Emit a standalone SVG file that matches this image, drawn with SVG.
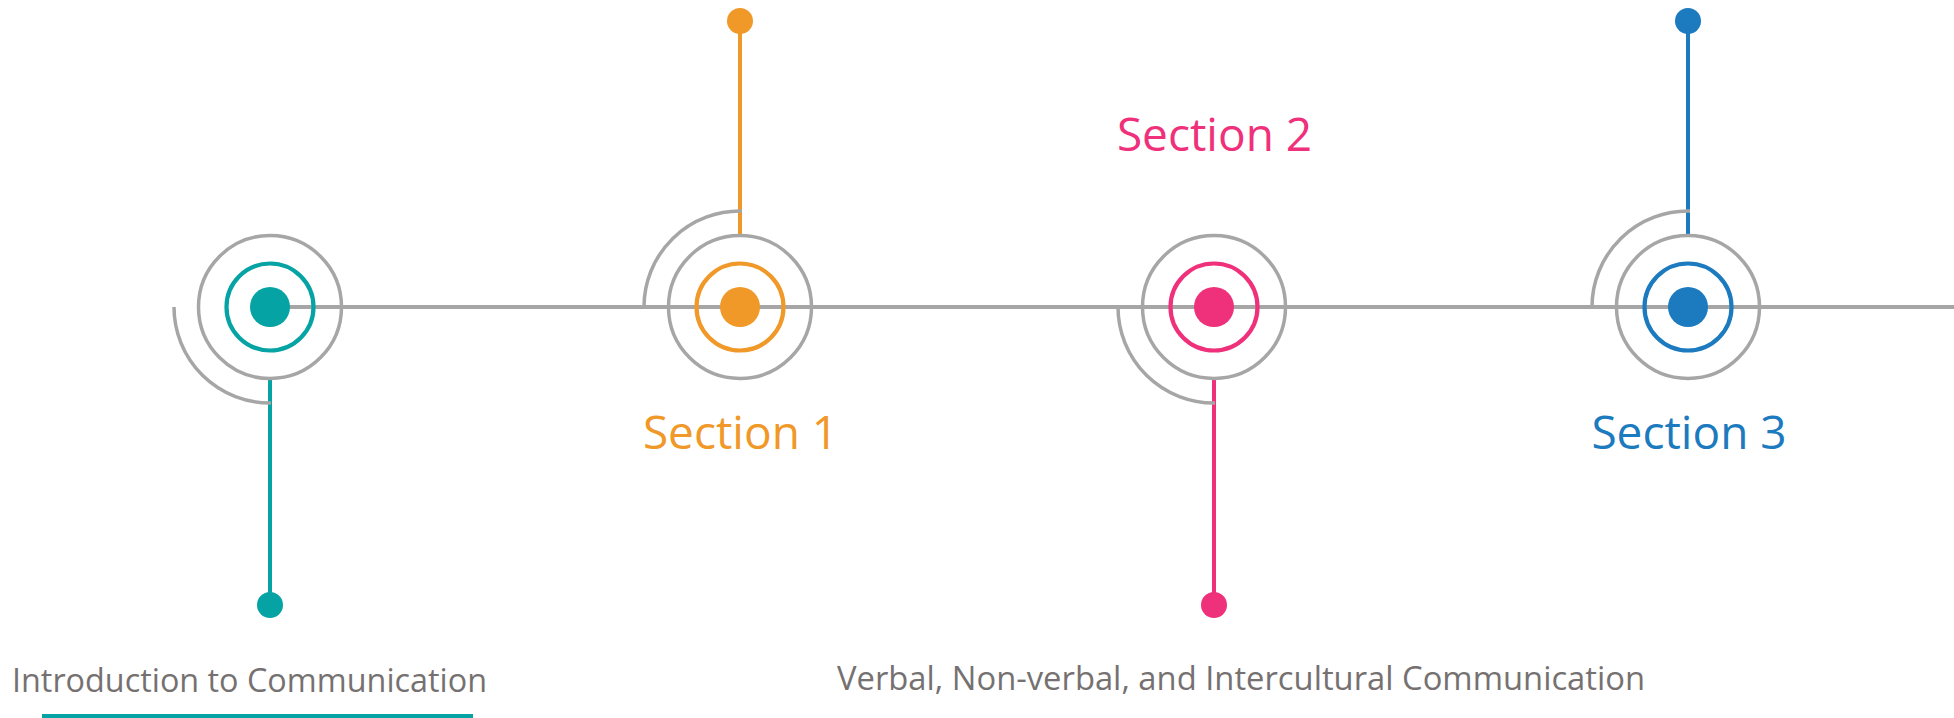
<svg xmlns="http://www.w3.org/2000/svg" width="1954" height="718" viewBox="0 0 1954 718">
<style>
.g{fill:none;stroke:#A6A6A6;stroke-width:3.5}
.ring{fill:none;stroke-width:4.2}
.lbl{font-family:"Open Sans","Liberation Sans",sans-serif;font-size:46px;text-anchor:middle}
.desc{font-family:"Open Sans","Liberation Sans",sans-serif;font-size:32px;fill:#767171}
</style>
<rect width="1954" height="718" fill="#fff"/>
<g id="connectors">
<line x1="270" y1="307" x2="1954" y2="307" stroke="#A6A6A6" stroke-width="4"/>
<line x1="270" y1="379" x2="270" y2="605" stroke="#05A3A4" stroke-width="4"/>
<circle cx="270" cy="605" r="13" fill="#05A3A4"/>
<line x1="740" y1="236" x2="740" y2="21" stroke="#F09828" stroke-width="4"/>
<circle cx="740" cy="21" r="13" fill="#F09828"/>
<line x1="1214" y1="379" x2="1214" y2="605" stroke="#EF307A" stroke-width="4"/>
<circle cx="1214" cy="605" r="13" fill="#EF307A"/>
<line x1="1688" y1="236" x2="1688" y2="21" stroke="#1C7ABE" stroke-width="4"/>
<circle cx="1688" cy="21" r="13" fill="#1C7ABE"/>
</g>
<g id="node-intro">
<path class="g" d="M174,307 A96,96 0 0 0 271,403"/>
<circle class="g" cx="270" cy="307" r="71.5"/>
<circle class="ring" stroke="#05A3A4" cx="270" cy="307" r="43.5"/>
<circle fill="#05A3A4" cx="270" cy="307" r="20"/>
<text class="desc" x="12" y="692" textLength="475" lengthAdjust="spacingAndGlyphs">Introduction to Communication</text>
<rect x="42" y="714" width="431" height="5" fill="#05A3A4"/>
</g>
<g id="node-section1">
<path class="g" d="M644,307 A96,96 0 0 1 742,211"/>
<circle class="g" cx="740" cy="307" r="71.5"/>
<circle class="ring" stroke="#F09828" cx="740" cy="307" r="43.5"/>
<circle fill="#F09828" cx="740" cy="307" r="20"/>
<text class="lbl" x="740.5" y="449" fill="#F09828">Section 1</text>
</g>
<g id="node-section2">
<path class="g" d="M1118,307 A96,96 0 0 0 1215,403"/>
<circle class="g" cx="1214" cy="307" r="71.5"/>
<circle class="ring" stroke="#EF307A" cx="1214" cy="307" r="43.5"/>
<circle fill="#EF307A" cx="1214" cy="307" r="20"/>
<text class="lbl" x="1214.5" y="150.5" fill="#EF307A">Section 2</text>
<text class="desc" x="837" y="690" textLength="808" lengthAdjust="spacingAndGlyphs">Verbal, Non-verbal, and Intercultural Communication</text>
</g>
<g id="node-section3">
<path class="g" d="M1592,307 A96,96 0 0 1 1690,211"/>
<circle class="g" cx="1688" cy="307" r="71.5"/>
<circle class="ring" stroke="#1C7ABE" cx="1688" cy="307" r="43.5"/>
<circle fill="#1C7ABE" cx="1688" cy="307" r="20"/>
<text class="lbl" x="1689" y="449" fill="#1C7ABE">Section 3</text>
</g>
</svg>
